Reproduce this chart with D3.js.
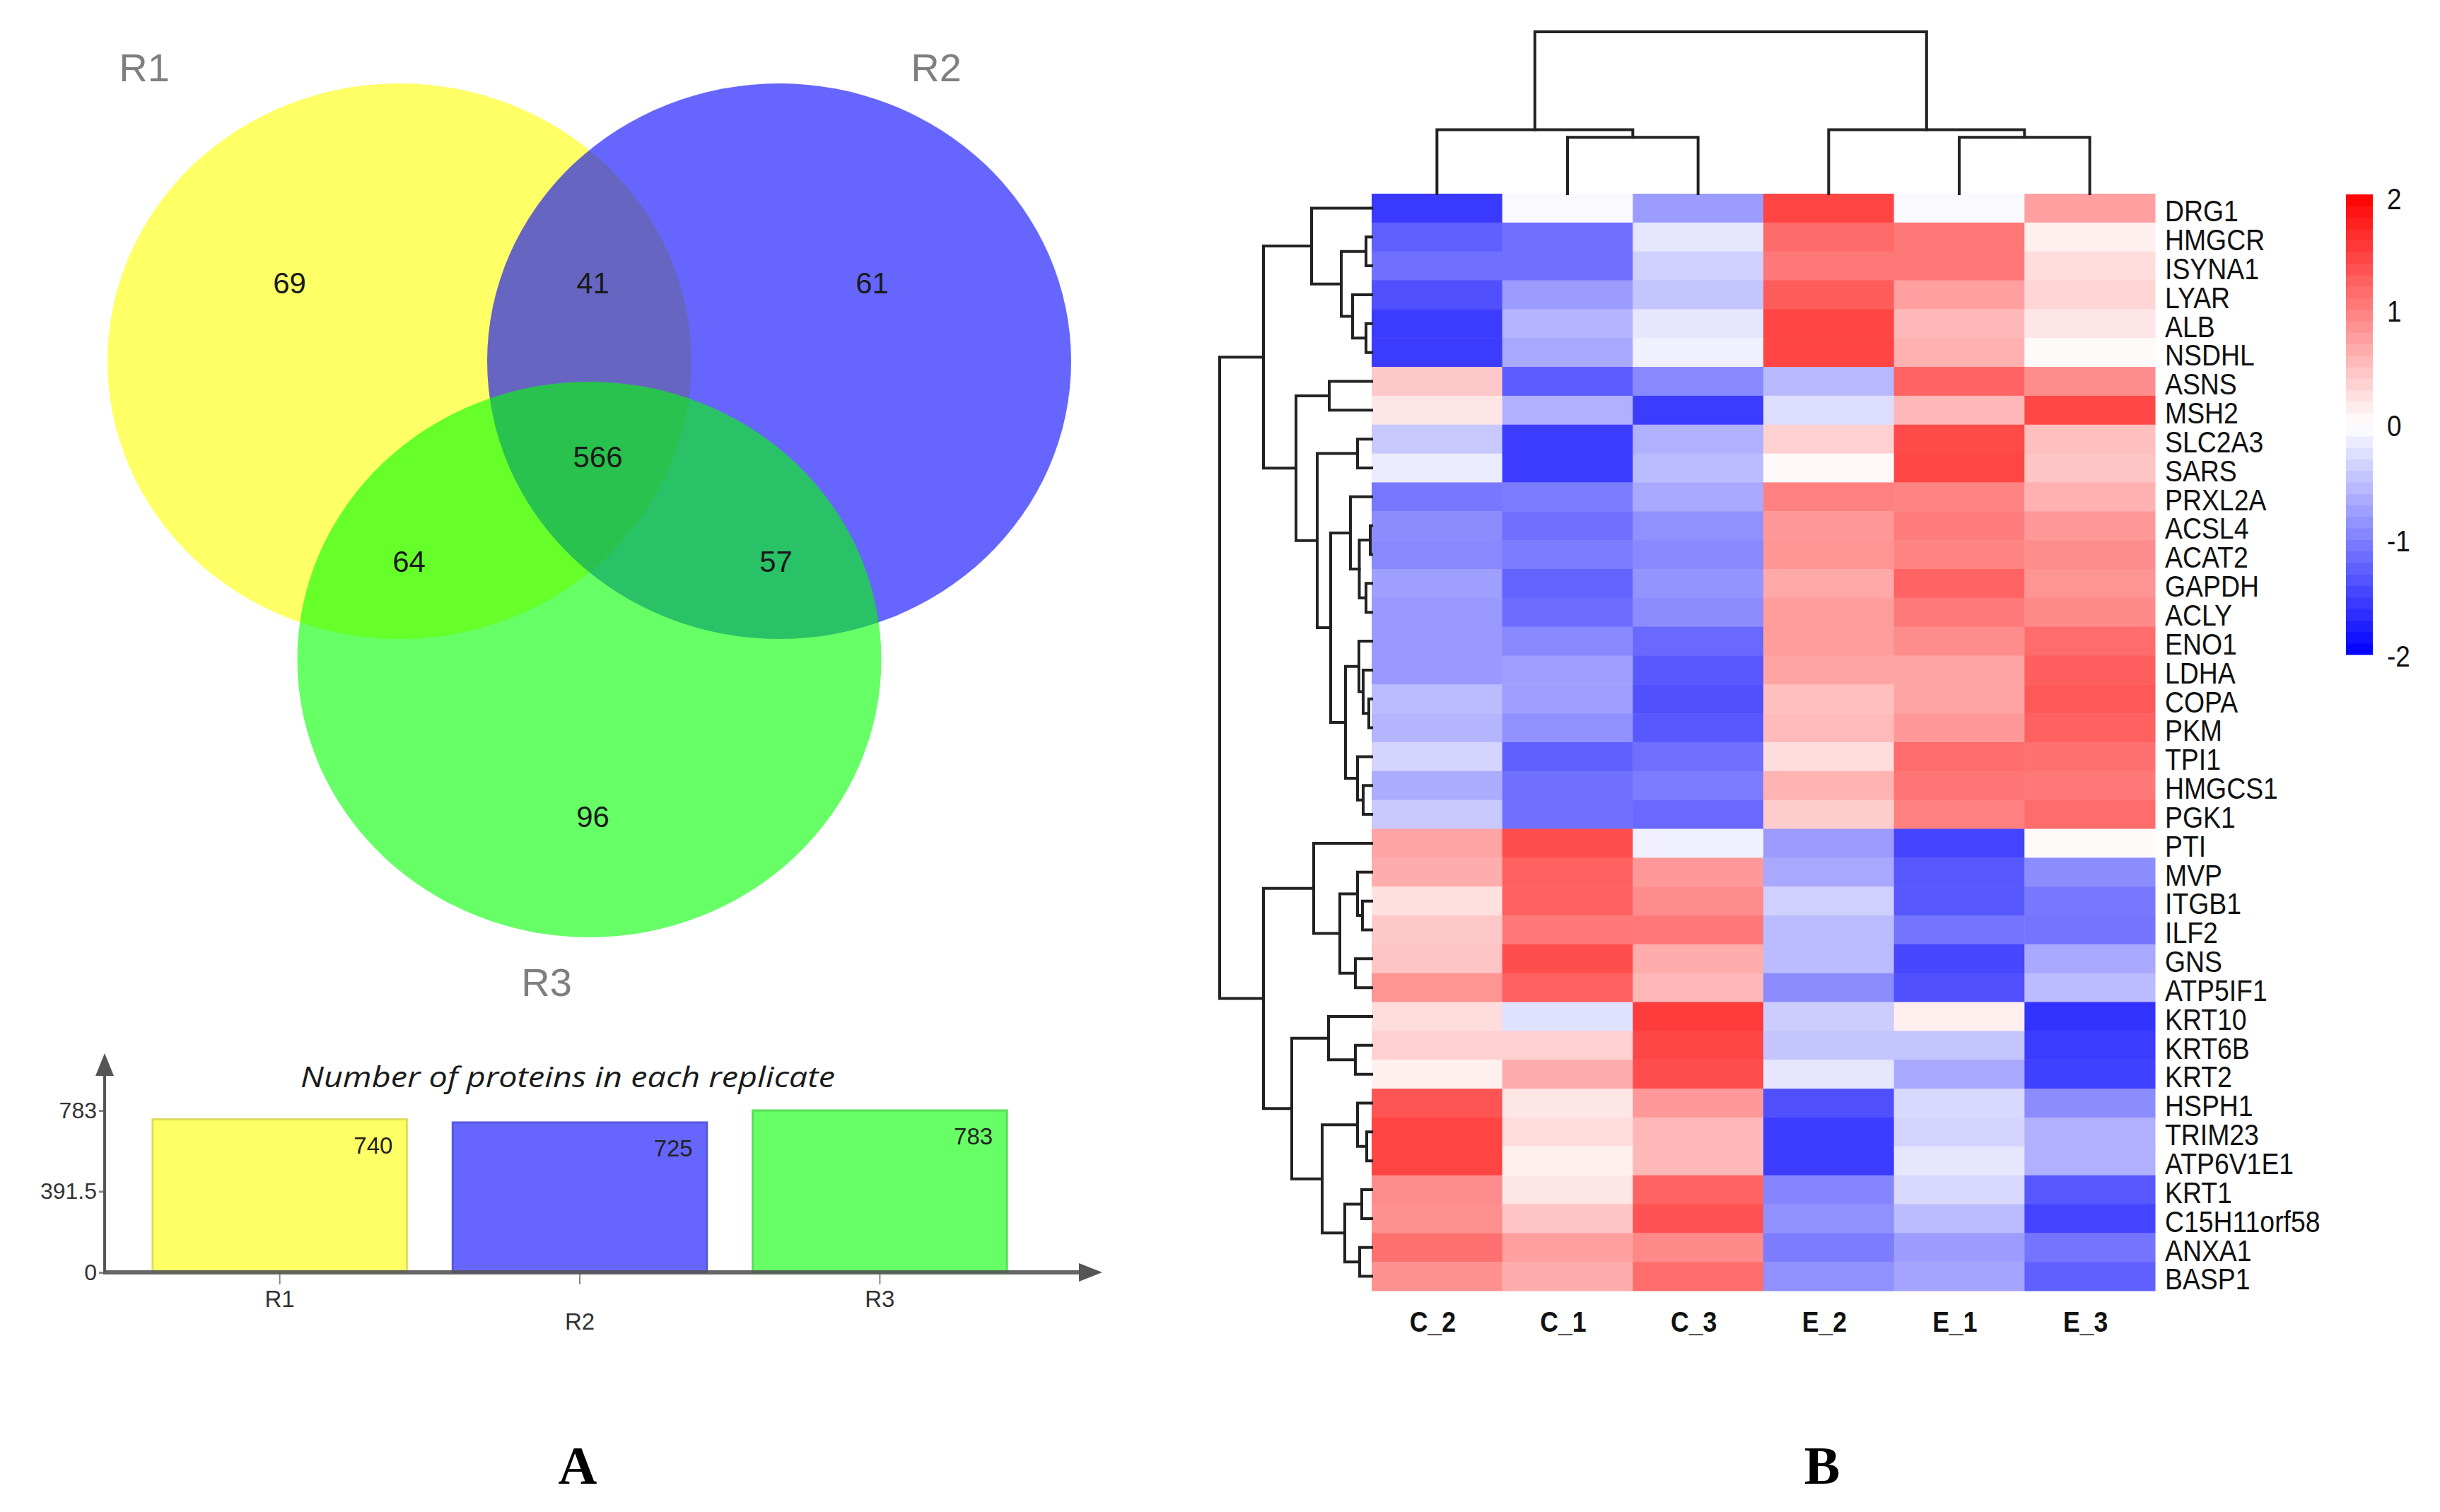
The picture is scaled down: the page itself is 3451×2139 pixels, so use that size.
<!DOCTYPE html>
<html>
<head>
<meta charset="utf-8">
<script src="https://cdn.jsdelivr.net/npm/d3@7"></script>
<style>
  html, body { margin: 0; padding: 0; background: #fff; }
  svg { display: block; }
</style>
</head>
<body>
<div id="chart"></div>
<script>
// ---------------- data ----------------
// venn
const VENN_SETS = ['R1', 'R2', 'R3'];
const VENN_REGIONS = ['R1', 'R1&R2', 'R2', 'R1&R2&R3', 'R1&R3', 'R2&R3', 'R3'];
const VENN_COUNTS = [69, 41, 61, 566, 64, 57, 96];

// bar chart
const REPLICATES = ['R1', 'R2', 'R3'];
const PROTEIN_TOTALS = [740, 725, 783];
const BAR_TICKS = [0, 391.5, 783];
const BAR_TITLE = 'Number of proteins in each replicate';

// heatmap
const SAMPLES = ['C_2', 'C_1', 'C_3', 'E_2', 'E_1', 'E_3'];
const GENES = ['DRG1', 'HMGCR', 'ISYNA1', 'LYAR', 'ALB', 'NSDHL', 'ASNS', 'MSH2',
    'SLC2A3', 'SARS', 'PRXL2A', 'ACSL4', 'ACAT2', 'GAPDH', 'ACLY', 'ENO1', 'LDHA',
    'COPA', 'PKM', 'TPI1', 'HMGCS1', 'PGK1', 'PTI', 'MVP', 'ITGB1', 'ILF2', 'GNS',
    'ATP5IF1', 'KRT10', 'KRT6B', 'KRT2', 'HSPH1', 'TRIM23', 'ATP6V1E1', 'KRT1',
    'C15H11orf58', 'ANXA1', 'BASP1'];
// z-scores, one row per gene, columns in SAMPLES order
const Z_SCORES = [
    [-1.55, -0.05, -0.78,  1.47, -0.05,  0.75],
    [-1.25, -1.12, -0.20,  1.17,  1.06,  0.12],
    [-1.12, -1.12, -0.37,  1.06,  1.06,  0.27],
    [-1.37, -0.78, -0.46,  1.28,  0.75,  0.33],
    [-1.53, -0.59, -0.20,  1.47,  0.56,  0.20],
    [-1.53, -0.68, -0.12,  1.47,  0.62,  0.04],
    [ 0.43, -1.28, -0.93, -0.56,  1.22,  0.90],
    [ 0.20, -0.62, -1.53, -0.27,  0.56,  1.44],
    [-0.43, -1.53, -0.62,  0.37,  1.42,  0.50],
    [-0.15, -1.53, -0.53,  0.05,  1.44,  0.46],
    [-1.06, -1.03, -0.68,  1.00,  0.96,  0.62],
    [-0.90, -1.12, -0.87,  0.80,  1.03,  0.80],
    [-0.93, -1.03, -0.93,  0.84,  0.96,  0.90],
    [-0.75, -1.22, -0.84,  0.68,  1.22,  0.84],
    [-0.80, -1.15, -0.90,  0.78,  1.04,  0.93],
    [-0.80, -0.93, -1.18,  0.78,  0.90,  1.15],
    [-0.80, -0.75, -1.31,  0.71,  0.71,  1.26],
    [-0.53, -0.75, -1.37,  0.50,  0.71,  1.31],
    [-0.59, -0.87, -1.31,  0.53,  0.80,  1.25],
    [-0.34, -1.25, -1.12,  0.27,  1.15,  1.12],
    [-0.65, -1.12, -1.03,  0.59,  1.09,  1.06],
    [-0.43, -1.12, -1.18,  0.40,  1.00,  1.15],
    [ 0.71,  1.40, -0.12, -0.78, -1.47,  0.04],
    [ 0.65,  1.25,  0.80, -0.68, -1.31, -0.90],
    [ 0.24,  1.25,  0.90, -0.37, -1.31, -1.06],
    [ 0.43,  1.06,  1.06, -0.53, -1.09, -1.09],
    [ 0.46,  1.40,  0.65, -0.53, -1.44, -0.68],
    [ 0.84,  1.25,  0.56, -0.90, -1.37, -0.53],
    [ 0.27, -0.24,  1.53, -0.40,  0.13, -1.60],
    [ 0.37,  0.37,  1.45, -0.46, -0.46, -1.53],
    [ 0.12,  0.65,  1.40, -0.20, -0.68, -1.50],
    [ 1.34,  0.20,  0.80, -1.37, -0.30, -0.90],
    [ 1.47,  0.27,  0.56, -1.53, -0.34, -0.62],
    [ 1.47,  0.12,  0.56, -1.53, -0.20, -0.62],
    [ 0.90,  0.20,  1.22, -0.96, -0.30, -1.31],
    [ 0.87,  0.46,  1.36, -0.87, -0.53, -1.47],
    [ 1.12,  0.75,  0.93, -1.03, -0.78, -1.09],
    [ 0.87,  0.65,  1.15, -0.87, -0.71, -1.25]
];
// dendrograms: [merge height, left, right], leaves are names
const ROW_TREE =
    [21.5,
        [15.3,
            [8.5, 'DRG1',
                [4.3, [0.8, 'HMGCR', 'ISYNA1'], [2.7, 'LYAR', [0.8, 'ALB', 'NSDHL']]]],
            [10.7,
                [6.0, 'ASNS', 'MSH2'],
                [7.7,
                    [2.0, 'SLC2A3', 'SARS'],
                    [5.8,
                        [3.0, 'PRXL2A', [1.75, [0.2, 'ACSL4', 'ACAT2'], [0.8, 'GAPDH', 'ACLY']]],
                        [3.7,
                            [1.8, 'ENO1', [1.2, 'LDHA', [0.4, 'COPA', 'PKM']]],
                            [2.0, 'TPI1', [1.2, 'HMGCS1', 'PGK1']]]]]]],
        [15.3,
            [8.2, 'PTI',
                [4.5, [2.0, 'MVP', [1.3, 'ITGB1', 'ILF2']], [2.3, 'GNS', 'ATP5IF1']]],
            [11.3,
                [6.1, 'KRT10', [2.3, 'KRT6B', 'KRT2']],
                [7.0,
                    [2.0, 'HSPH1', [0.7, 'TRIM23', 'ATP6V1E1']],
                    [3.8, [1.4, 'KRT1', 'C15H11orf58'], [1.7, 'ANXA1', 'BASP1']]]]]];
const COL_TREE = [23.0, [9.1, 'C_2', [8.0, 'C_1', 'C_3']], [9.1, 'E_2', [8.0, 'E_1', 'E_3']]];
const LEGEND_TICKS = [2, 1, 0, -1, -2];

// ---------------- frame ----------------
const FRAME_WIDTH = 3451;
const FRAME_HEIGHT = 2139;

const SVG = d3.select('#chart')
    .append('svg')
        .attr('width', FRAME_WIDTH)
        .attr('height', FRAME_HEIGHT)
        .style('font-family', '"Liberation Sans", Arial, sans-serif');

SVG.append('rect')
    .attr('width', FRAME_WIDTH)
    .attr('height', FRAME_HEIGHT)
    .attr('fill', '#fff');

// ---------------- A: venn ----------------
const VENN = {rx: 413, ry: 393, cx: 833.5, cy: 511, dx: 268.5, dy: 422};
const VENN_CENTERS = [
    [VENN.cx - VENN.dx, VENN.cy],
    [VENN.cx + VENN.dx, VENN.cy],
    [VENN.cx, VENN.cy + VENN.dy]
];
const VENN_FILLS = ['#ffff00', '#0000ff', '#00ff00'];
// label anchors relative to the middle of the top pair
const REGION_OFFSET = {
    'R1': [-424, -111], 'R1&R2': [5, -111], 'R2': [400, -111],
    'R1&R2&R3': [12, 135], 'R1&R3': [-255, 283], 'R2&R3': [264, 283], 'R3': [5, 644]
};
const SET_LABEL_POS = [[204, 95], [1324, 95], [773, 1389]];

SVG.append('g').selectAll('ellipse')
    .data(VENN_SETS)
    .enter()
    .append('ellipse')
        .attr('cx', (d, i) => VENN_CENTERS[i][0])
        .attr('cy', (d, i) => VENN_CENTERS[i][1])
        .attr('rx', VENN.rx)
        .attr('ry', VENN.ry)
        .attr('fill', (d, i) => VENN_FILLS[i])
        .attr('fill-opacity', 0.6);

SVG.append('g').selectAll('text')
    .data(VENN_SETS)
    .enter()
    .append('text')
        .attr('x', (d, i) => SET_LABEL_POS[i][0])
        .attr('y', (d, i) => SET_LABEL_POS[i][1])
        .attr('text-anchor', 'middle')
        .attr('dominant-baseline', 'central')
        .attr('font-size', 56)
        .attr('fill', '#7f7f7f')
        .text(d => d);

SVG.append('g').selectAll('text')
    .data(VENN_REGIONS)
    .enter()
    .append('text')
        .attr('x', d => VENN.cx + REGION_OFFSET[d][0])
        .attr('y', d => VENN.cy + REGION_OFFSET[d][1])
        .attr('text-anchor', 'middle')
        .attr('dominant-baseline', 'central')
        .attr('font-size', 42)
        .attr('fill', '#1a1a1a')
        .text((d, i) => VENN_COUNTS[i]);

// ---------------- A: bar chart ----------------
const BAR = {left: 148, right: 1559, top: 1490, bottom: 1800};
const BAR_COLORS = ['#ffff66', '#6666ff', '#66ff66'];

const X_BAR = d3.scaleBand()
    .domain(REPLICATES)
    .range([BAR.left, 1492])
    .paddingInner(0.153)
    .paddingOuter(0.16);

const Y_BAR = d3.scaleLinear()
    .domain([0, 783])
    .range([BAR.bottom, 1571]);

SVG.append('g').selectAll('rect')
    .data(REPLICATES)
    .enter()
    .append('rect')
        .attr('x', d => X_BAR(d))
        .attr('y', (d, i) => Y_BAR(PROTEIN_TOTALS[i]))
        .attr('width', X_BAR.bandwidth())
        .attr('height', (d, i) => BAR.bottom - Y_BAR(PROTEIN_TOTALS[i]))
        .attr('fill', (d, i) => BAR_COLORS[i])
        .attr('stroke', (d, i) => d3.color(BAR_COLORS[i]).darker(0.4))
        .attr('stroke-width', 3);

SVG.append('g').selectAll('text')
    .data(REPLICATES)
    .enter()
    .append('text')
        .attr('x', d => X_BAR(d) + X_BAR.bandwidth() - 20)
        .attr('y', (d, i) => Y_BAR(PROTEIN_TOTALS[i]) + 48)
        .attr('text-anchor', 'end')
        .attr('font-size', 33)
        .attr('fill', '#222')
        .text((d, i) => PROTEIN_TOTALS[i]);

// y axis
const Y_AXIS = SVG.append('g')
    .attr('transform', 'translate(' + BAR.left + ',0)')
    .call(d3.axisLeft(Y_BAR).tickValues(BAR_TICKS).tickSize(8).tickFormat(d => String(d)));
Y_AXIS.select('.domain').remove();
Y_AXIS.selectAll('line').attr('stroke', '#888').attr('stroke-width', 3);
Y_AXIS.selectAll('text')
    .attr('font-size', 32)
    .attr('fill', '#333')
    .attr('font-family', '"Liberation Sans", Arial, sans-serif');

// x axis
const X_AXIS = SVG.append('g')
    .attr('transform', 'translate(0,' + BAR.bottom + ')')
    .call(d3.axisBottom(X_BAR).tickSize(17).tickSizeOuter(0));
X_AXIS.select('.domain').remove();
X_AXIS.selectAll('line').attr('stroke', '#888').attr('stroke-width', 2);
X_AXIS.selectAll('text')
    .attr('font-size', 33)
    .attr('fill', '#333')
    .attr('font-family', '"Liberation Sans", Arial, sans-serif')
    .attr('y', (d, i) => (i % 2 === 1 ? 58 : 26));

// axis lines with arrow heads
const AXIS_COLOR = '#555';
SVG.append('line')
    .attr('x1', BAR.left).attr('x2', BAR.left)
    .attr('y1', BAR.bottom).attr('y2', BAR.top + 20)
    .attr('stroke', AXIS_COLOR).attr('stroke-width', 4);
SVG.append('path')
    .attr('d', 'M' + BAR.left + ',' + BAR.top + 'l-13,32h26z')
    .attr('fill', AXIS_COLOR);
SVG.append('line')
    .attr('x1', BAR.left - 2).attr('x2', BAR.right - 20)
    .attr('y1', BAR.bottom).attr('y2', BAR.bottom)
    .attr('stroke', AXIS_COLOR).attr('stroke-opacity', 0.9).attr('stroke-width', 6);
SVG.append('path')
    .attr('d', 'M' + BAR.right + ',' + BAR.bottom + 'l-33,-13v26z')
    .attr('fill', AXIS_COLOR);

SVG.append('text')
    .attr('x', 803)
    .attr('y', 1522)
    .attr('text-anchor', 'middle')
    .attr('dominant-baseline', 'central')
    .attr('font-family', '"Open Sans", sans-serif')
    .attr('font-style', 'italic')
    .attr('font-size', 40)
    .attr('textLength', 756)
    .attr('lengthAdjust', 'spacingAndGlyphs')
    .attr('fill', '#1a1a1a')
    .text(BAR_TITLE);

// ---------------- B: heatmap ----------------
const HM = {left: 1940, right: 3048, top: 274, bottom: 1826};

const X_HM = d3.scaleBand().domain(SAMPLES).range([HM.left, HM.right]);
const Y_HM = d3.scaleBand().domain(GENES).range([HM.top, HM.bottom]);
const COLOR = d3.scaleLinear()
    .domain([-2, 0, 2])
    .range(['#0000ff', '#ffffff', '#ff0000']);

const CELLS = [];
GENES.forEach((g, i) => SAMPLES.forEach((s, j) => CELLS.push({gene: g, sample: s, value: Z_SCORES[i][j]})));

SVG.append('g').selectAll('rect')
    .data(CELLS)
    .enter()
    .append('rect')
        .attr('x', d => X_HM(d.sample))
        .attr('y', d => Y_HM(d.gene))
        .attr('width', X_HM.bandwidth() + 0.5)
        .attr('height', Y_HM.bandwidth() + 0.5)
        .attr('fill', d => COLOR(d.value));

// row labels
SVG.append('g').selectAll('text')
    .data(GENES)
    .enter()
    .append('text')
        .attr('transform', d => 'translate(' + (HM.right + 14) + ',' + (Y_HM(d) + Y_HM.bandwidth() / 2 + 4) + ') scale(0.89,1)')
        .attr('dominant-baseline', 'central')
        .attr('font-size', 42)
        .attr('fill', '#111')
        .text(d => d);

// column labels
SVG.append('g').selectAll('text')
    .data(SAMPLES)
    .enter()
    .append('text')
        .attr('transform', d => 'translate(' + (X_HM(d) + X_HM.bandwidth() / 2 - 6) + ',1870) scale(0.89,1)')
        .attr('text-anchor', 'middle')
        .attr('dominant-baseline', 'central')
        .attr('font-size', 40)
        .attr('font-weight', 'bold')
        .attr('fill', '#111')
        .text(d => d);

// dendrograms
const ROW_H = d3.scaleLinear().domain([0, 21.5]).range([HM.left, 1725]);
const COL_H = d3.scaleLinear().domain([0, 23.0]).range([HM.top, 45]);
const TREE_G = SVG.append('g')
    .attr('fill', 'none')
    .attr('stroke', '#222')
    .attr('stroke-width', 4)
    .attr('stroke-linecap', 'square');

function rowTree(node) {
    if (typeof node === 'string') {
        return {pos: Y_HM(node) + Y_HM.bandwidth() / 2, h: 0};
    }
    const a = rowTree(node[1]);
    const b = rowTree(node[2]);
    const x = ROW_H(node[0]);
    TREE_G.append('path')
        .attr('d', 'M' + ROW_H(a.h) + ',' + a.pos + 'H' + x + 'V' + b.pos + 'H' + ROW_H(b.h));
    return {pos: (a.pos + b.pos) / 2, h: node[0]};
}

function colTree(node) {
    if (typeof node === 'string') {
        return {pos: X_HM(node) + X_HM.bandwidth() / 2, h: 0};
    }
    const a = colTree(node[1]);
    const b = colTree(node[2]);
    const y = COL_H(node[0]);
    TREE_G.append('path')
        .attr('d', 'M' + a.pos + ',' + COL_H(a.h) + 'V' + y + 'H' + b.pos + 'V' + COL_H(b.h));
    return {pos: (a.pos + b.pos) / 2, h: node[0]};
}

rowTree(ROW_TREE);
colTree(COL_TREE);

// colour key
const Y_KEY = d3.scaleLinear().domain([-2, 2]).range([926, 275]);
const KEY_STEPS = d3.range(-2, 2, 0.1);

SVG.append('g').selectAll('rect')
    .data(KEY_STEPS)
    .enter()
    .append('rect')
        .attr('x', 3318)
        .attr('y', d => Y_KEY(d + 0.1))
        .attr('width', 38)
        .attr('height', d => Y_KEY(d) - Y_KEY(d + 0.1) + 0.6)
        .attr('fill', d => COLOR(d + 0.05));

SVG.append('g').selectAll('text')
    .data(LEGEND_TICKS)
    .enter()
    .append('text')
        .attr('transform', d => 'translate(3376,' + (Y_KEY(d) + (d === 2 ? 6 : 2)) + ') scale(0.88,1)')
        .attr('dominant-baseline', 'central')
        .attr('font-size', 42)
        .attr('fill', '#111')
        .text(d => String(d));

// ---------------- panel letters ----------------
SVG.append('g').selectAll('text')
    .data([['A', 817], ['B', 2577]])
    .enter()
    .append('text')
        .attr('x', d => d[1])
        .attr('y', 2099)
        .attr('text-anchor', 'middle')
        .attr('font-family', '"Liberation Serif", "Times New Roman", serif')
        .attr('font-weight', 'bold')
        .attr('font-size', 76)
        .attr('fill', '#000')
        .text(d => d[0]);
</script>
</body>
</html>
